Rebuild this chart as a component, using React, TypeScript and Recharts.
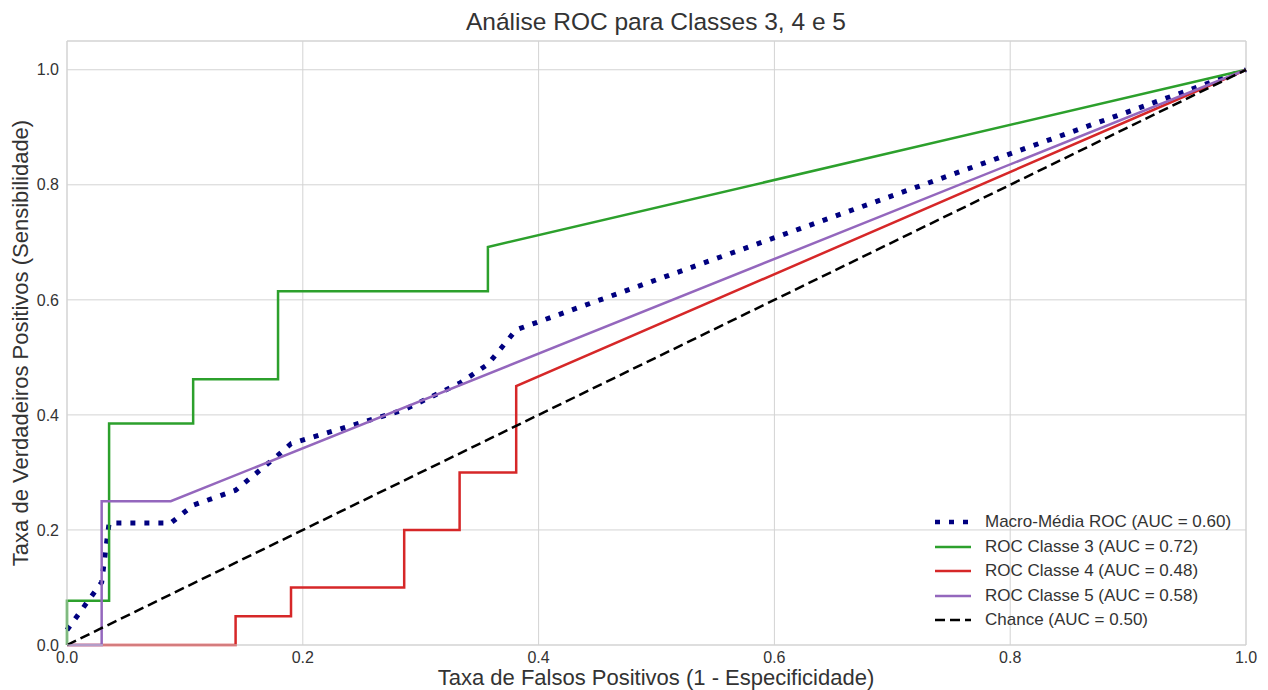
import { LineChart, Line, XAxis, YAxis, CartesianGrid, ReferenceLine } from "recharts";

const W = 1268;
const H = 690;
const FONT = "'Liberation Sans', Arial, sans-serif";

// FPR / TPR points
const macroFpr = [0, 0.0294, 0.0357, 0.088, 0.107, 0.143, 0.179, 0.19, 0.286, 0.333, 0.357, 0.381, 1];
const macroTpr = [0.026, 0.109, 0.212, 0.212, 0.243, 0.269, 0.33, 0.35, 0.409, 0.455, 0.488, 0.548, 1];

const c3Fpr = [0, 0, 0.0357, 0.0357, 0.107, 0.107, 0.179, 0.179, 0.357, 0.357, 1];
const c3Tpr = [0, 0.077, 0.077, 0.385, 0.385, 0.462, 0.462, 0.615, 0.615, 0.692, 1];

const c4Fpr = [0, 0.143, 0.143, 0.19, 0.19, 0.286, 0.286, 0.333, 0.333, 0.381, 0.381, 1];
const c4Tpr = [0, 0, 0.05, 0.05, 0.1, 0.1, 0.2, 0.2, 0.3, 0.3, 0.45, 1];

const c5Fpr = [0, 0.0294, 0.0294, 0.088, 1];
const c5Tpr = [0, 0, 0.25, 0.25, 1];

const chanceFpr = [0, 1];
const chanceTpr = [0, 1];

const ticks = [0, 0.2, 0.4, 0.6, 0.8, 1];

const toPts = (xs: number[], ys: number[]) => xs.map((x, i) => ({ x, y: ys[i] }));

const series = [
  { name: "Macro-Média ROC (AUC = 0.60)", data: toPts(macroFpr, macroTpr), color: "#000080", width: 5, dash: "5 9" },
  { name: "ROC Classe 3 (AUC = 0.72)", data: toPts(c3Fpr, c3Tpr), color: "#2ca02c", width: 2.5, dash: undefined },
  { name: "ROC Classe 4 (AUC = 0.48)", data: toPts(c4Fpr, c4Tpr), color: "#d62728", width: 2.5, dash: undefined },
  { name: "ROC Classe 5 (AUC = 0.58)", data: toPts(c5Fpr, c5Tpr), color: "#9467bd", width: 2.5, dash: undefined },
  { name: "Chance (AUC = 0.50)", data: toPts(chanceFpr, chanceTpr), color: "#000000", width: 2.5, dash: "10 5" },
];

function LegendBox() {
  return (
    <div style={{ position: "absolute", left: 933, top: 510, fontFamily: FONT, fontSize: 17, color: "#333" }}>
      {series.map((s) => (
        <div key={s.name} style={{ display: "flex", alignItems: "center", height: 24.5 }}>
          <svg width={40} height={10} style={{ marginRight: 12 }}>
            <line
              x1={2}
              y1={5}
              x2={38}
              y2={5}
              stroke={s.color}
              strokeWidth={s.width === 5 ? 4.5 : 2.5}
              strokeDasharray={s.dash}
            />
          </svg>
          <span>{s.name}</span>
        </div>
      ))}
    </div>
  );
}

export default function App() {
  return (
    <div style={{ position: "fixed", left: 0, top: 0, width: W, height: H, background: "#fff" }}>
      <div
        style={{
          position: "absolute",
          left: 67,
          width: 1178,
          top: 8,
          textAlign: "center",
          fontFamily: FONT,
          fontSize: 24.5,
          color: "#333",
        }}
      >
        Análise ROC para Classes 3, 4 e 5
      </div>
      <div
        style={{
          position: "absolute",
          left: 67,
          width: 1178,
          top: 666,
          textAlign: "center",
          fontFamily: FONT,
          fontSize: 22,
          lineHeight: "24px",
          color: "#333",
        }}
      >
        Taxa de Falsos Positivos (1 - Especificidade)
      </div>
      <div
        style={{
          position: "absolute",
          left: 21,
          top: 343,
          transform: "translate(-50%, -50%) rotate(-90deg)",
          whiteSpace: "nowrap",
          fontFamily: FONT,
          fontSize: 22,
          color: "#333",
        }}
      >
        Taxa de Verdadeiros Positivos (Sensibilidade)
      </div>
      <LineChart width={W} height={H} margin={{ top: 41, right: 22, bottom: 0, left: 0 }}>
        <CartesianGrid stroke="#d3d3d3" strokeWidth={1} />
        <XAxis
          type="number"
          dataKey="x"
          domain={[0, 1]}
          ticks={ticks}
          tickFormatter={(v: number) => v.toFixed(1)}
          height={45}
          tickLine={false}
          tickMargin={1}
          axisLine={{ stroke: "#d3d3d3" }}
          tick={{ fill: "#333", fontSize: 16, fontFamily: FONT }}
          allowDuplicatedCategory={false}
        />
        <YAxis
          type="number"
          dataKey="y"
          domain={[0, 1.05]}
          ticks={ticks}
          tickFormatter={(v: number) => v.toFixed(1)}
          width={67}
          tickLine={false}
          axisLine={{ stroke: "#d3d3d3" }}
          tick={{ fill: "#333", fontSize: 16, fontFamily: FONT }}
        />
        <ReferenceLine y={1.05} stroke="#d3d3d3" />
        <ReferenceLine x={1} stroke="#d3d3d3" />
        {series.map((s) => (
          <Line
            key={s.name}
            data={s.data}
            dataKey="y"
            name={s.name}
            type="linear"
            stroke={s.color}
            strokeWidth={s.width}
            strokeDasharray={s.dash}
            dot={false}
            activeDot={false}
            isAnimationActive={false}
          />
        ))}
      </LineChart>
      <LegendBox />
    </div>
  );
}
